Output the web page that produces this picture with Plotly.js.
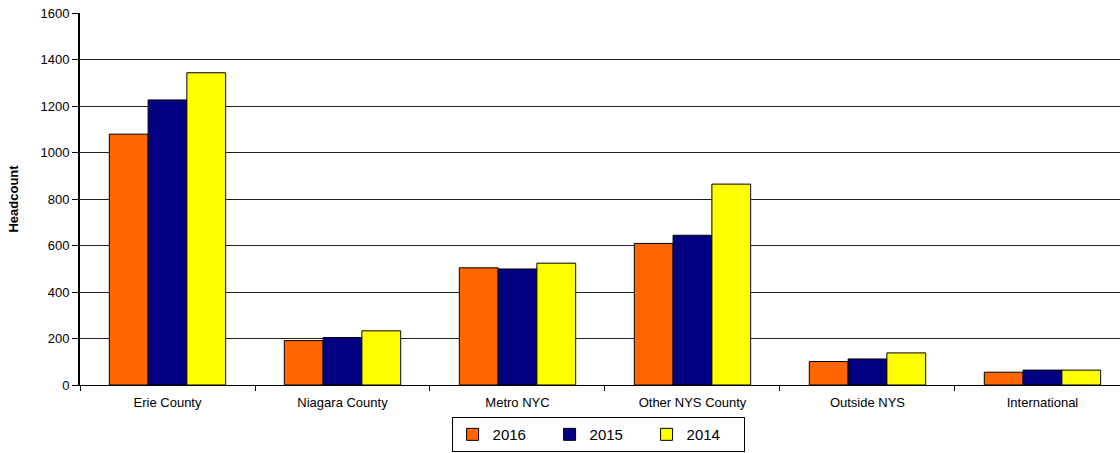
<!DOCTYPE html>
<html>
<head>
<meta charset="utf-8">
<script src="https://cdn.plot.ly/plotly-3.0.1.min.js"></script>
<style>
html,body{margin:0;padding:0;overflow:hidden;background:#fff;}
#chart{width:1120px;height:453px;}
</style>
</head>
<body>
<div id="chart"></div>
<script>
const categories = ["Erie County", "Niagara County", "Metro NYC", "Other NYS County", "Outside NYS", "International"];
const values2016 = [1079, 191, 504, 609, 101, 55];
const values2015 = [1226, 204, 499, 644, 112, 64];
const values2014 = [1343, 233, 524, 864, 138, 64];
const seriesNames = ["2016", "2015", "2014"];
const yTicks = [0, 200, 400, 600, 800, 1000, 1200, 1400, 1600];

const colors = ["#ff6600", "#000080", "#ffff00"];
const allValues = [values2016, values2015, values2014];

const traces = allValues.map((vals, i) => ({
  type: "bar",
  name: seriesNames[i],
  x: categories,
  y: vals,
  marker: {color: colors[i], line: {color: "#000", width: 1}},
  hoverinfo: "x+y+name"
}));

const font = {family: "Liberation Sans, Arial, sans-serif", color: "#000"};

const layout = {
  width: 1120,
  height: 453,
  margin: {l: 80, r: 0, t: 13, b: 68, autoexpand: false},
  paper_bgcolor: "#fff",
  plot_bgcolor: "#fff",
  font: font,
  barmode: "group",
  bargap: 0.335,
  bargroupgap: 0,
  showlegend: true,
  legend: {
    orientation: "h",
    xref: "container", yref: "container",
    x: 0.534, xanchor: "center",
    y: 0.002, yanchor: "bottom",
    bordercolor: "#000", borderwidth: 1,
    font: {family: font.family, size: 15, color: "#000"},
    entrywidth: 52,
    itemwidth: 30,
    traceorder: "normal"
  },
  xaxis: {
    type: "category",
    range: [-0.5, 5.443],
    autorange: false,
    tickson: "boundaries",
    ticks: "outside",
    ticklen: 5,
    tickcolor: "#000",
    showline: true,
    linecolor: "#000",
    linewidth: 1,
    showgrid: false,
    ticklabelstandoff: 5,
    tickfont: {family: font.family, size: 13, color: "#000"},
    fixedrange: true
  },
  yaxis: {
    range: [0, 1600],
    autorange: false,
    tickvals: yTicks,
    ticktext: yTicks.map(String),
    ticks: "outside",
    ticklen: 6,
    tickcolor: "#000",
    showline: true,
    linecolor: "#000",
    linewidth: 2,
    showgrid: true,
    gridcolor: "#222",
    gridwidth: 1,
    zeroline: false,
    tickfont: {family: font.family, size: 13, color: "#000"},
    title: {text: "<b>Headcount</b>", font: {family: font.family, size: 13, color: "#000"}, standoff: 19},
    fixedrange: true
  }
};

Plotly.newPlot("chart", traces, layout, {displayModeBar: false});
</script>
</body>
</html>
